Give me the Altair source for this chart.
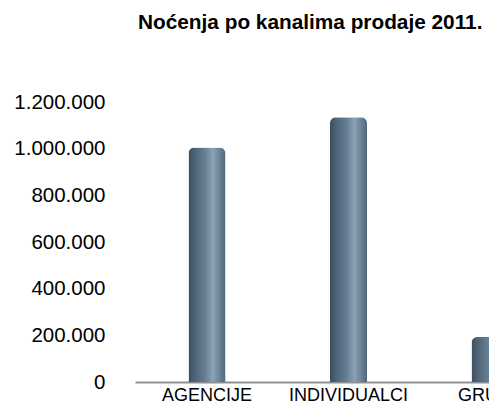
import altair as alt
import pandas as pd

categories = ["AGENCIJE", "INDIVIDUALCI", "GRUPE"]
values = [1005000, 1135000, 193000]
y_ticks = [0, 200000, 400000, 600000, 800000, 1000000, 1200000]

df = pd.DataFrame({"kanal": categories, "nocenja": values})

grad = alt.LinearGradient(
    gradient="linear", x1=0, x2=1, y1=0, y2=0,
    stops=[
        alt.GradientStop(color="#3b4e5e", offset=0.0),
        alt.GradientStop(color="#4f6578", offset=0.18),
        alt.GradientStop(color="#667f93", offset=0.45),
        alt.GradientStop(color="#8ca2b5", offset=0.66),
        alt.GradientStop(color="#6f879b", offset=0.82),
        alt.GradientStop(color="#52687a", offset=1.0),
    ],
)

chart = (
    alt.Chart(df)
    .mark_bar(fill=grad, cornerRadiusTopLeft=6, cornerRadiusTopRight=6)
    .encode(
        x=alt.X(
            "kanal:N",
            sort=categories,
            scale=alt.Scale(range=[0, 427], paddingInner=0.7385, paddingOuter=0.378),
            axis=alt.Axis(
                title=None, labelAngle=0, domainColor="#8f8f8f", domainWidth=2,
                ticks=False, labelPadding=4, labelFontSize=18,
                labelFont="Liberation Sans", labelColor="#000000",
            ),
        ),
        y=alt.Y(
            "nocenja:Q",
            scale=alt.Scale(domain=[0, 1200000], nice=False),
            axis=alt.Axis(
                title=None, values=y_ticks, grid=False, domain=False, ticks=False,
                labelPadding=30, labelFontSize=20.5, labelFont="Liberation Sans",
                labelColor="#000000",
                labelExpr="replace(format(datum.value, ','), regexp(',', 'g'), '.')",
            ),
        ),
    )
    .properties(
        width=354,
        height=280,
        title=alt.TitleParams(
            "Noćenja po kanalima prodaje 2011.",
            anchor="start", frame="group", dx=3, offset=58,
            font="Liberation Sans", fontSize=20.8, fontWeight="bold", color="#000000",
        ),
        autosize="none",
        padding={"left": 127, "top": 94, "right": 0, "bottom": 22},
    )
    .configure_view(stroke=None)
)

chart.save("out.html", embed_options={"renderer": "svg", "actions": False})
